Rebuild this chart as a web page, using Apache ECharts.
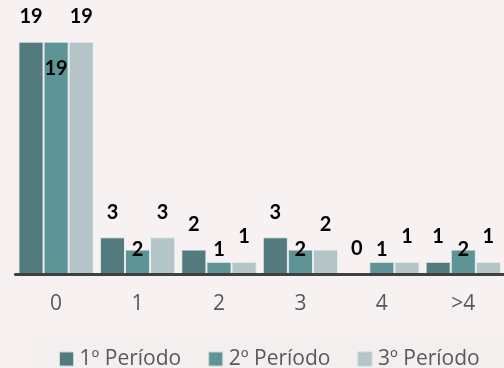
<!DOCTYPE html>
<html>
<head>
<meta charset="utf-8">
<style>
html,body{margin:0;padding:0;background:#f7f1f1;}
#chart{width:504px;height:368px;}
</style>
<script src="https://cdn.jsdelivr.net/npm/echarts@6/dist/echarts.min.js"></script>
</head>
<body>
<div id="chart"></div>
<script>
const categories = ['0', '1', '2', '3', '4', '>4'];
const seriesNames = ['1º Período', '2º Período', '3º Período'];
const periodo1 = [19, 3, 2, 3, 0, 1];
const periodo2 = [19, 2, 1, 2, 1, 2];
const periodo3 = [19, 3, 1, 2, 1, 1];

const colors = ['#537b7d', '#5f9496', '#b4c4c7'];
const labelFont = {fontFamily: 'Lato', fontWeight: 'bold', fontSize: 20, color: '#000'};

const chart = echarts.init(document.getElementById('chart'), null, {renderer: 'canvas'});

function outsideSeries(name, data, color) {
  return {
    name: name,
    type: 'bar',
    data: data,
    barGap: '0%',
    barCategoryGap: '7.5%',
    itemStyle: {color: color, borderColor: 'rgba(235,242,242,0.9)', borderWidth: 1},
    label: Object.assign({show: true, position: 'top', distance: 15}, labelFont),
    z: 2
  };
}

const midData = periodo2.map(v => v > 5
  ? {value: v, label: {position: 'insideTop', distance: 17}}
  : {value: v, label: {position: 'insideBottom', distance: 14}});

const option = {
  backgroundColor: '#f7f1f1',
  animation: false,
  grid: {left: 15.4, width: 500, top: 29.4, bottom: 94, containLabel: false},
  xAxis: {
    type: 'category',
    data: categories,
    axisLine: {show: true, lineStyle: {color: '#404040', width: 3}},
    axisTick: {show: false},
    axisLabel: {color: '#595959', fontFamily: 'Open Sans', fontSize: 21, margin: 20},
    z: 5
  },
  yAxis: {
    type: 'value', min: 0, max: 20,
    show: false, splitLine: {show: false}
  },
  legend: {
    data: seriesNames,
    left: 31, top: 337, width: 700,
    padding: [11, 28, 11, 28],
    backgroundColor: '#f3efee',
    itemWidth: 14, itemHeight: 14, itemGap: 27,
    icon: 'rect',
    itemStyle: {borderColor: '#c8d6d7', borderWidth: 1},
    textStyle: {color: '#595959', fontFamily: 'Open Sans', fontSize: 21, lineHeight: 22, padding: [0, 0, 0, 1]}
  },
  series: [
    outsideSeries(seriesNames[0], periodo1, colors[0]),
    {
      name: seriesNames[1],
      type: 'bar',
      data: midData,
      barGap: '0%',
      barCategoryGap: '7.5%',
      itemStyle: {color: colors[1], borderColor: 'rgba(235,242,242,0.9)', borderWidth: 1},
      label: Object.assign({show: true}, labelFont),
      z: 2
    },
    outsideSeries(seriesNames[2], periodo3, colors[2])
  ]
};
chart.setOption(option);
</script>
</body>
</html>
